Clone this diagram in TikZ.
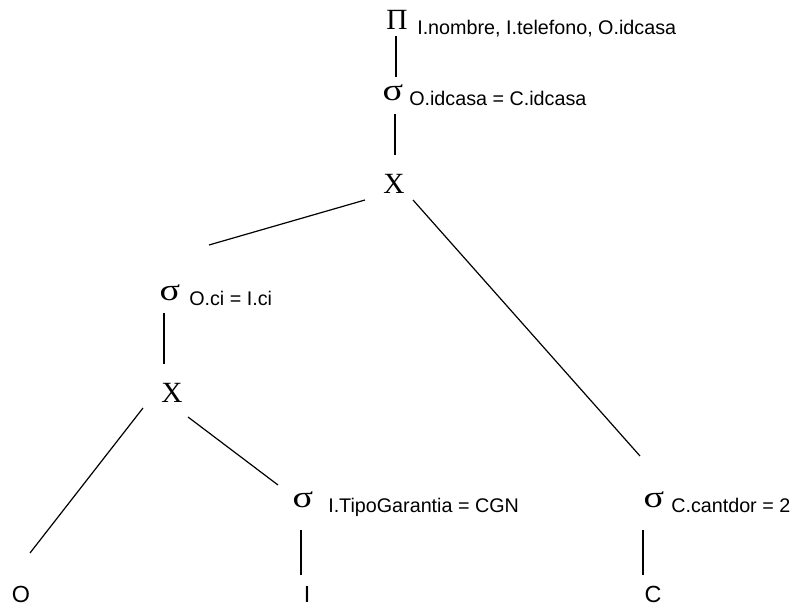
\documentclass[tikz,border=0pt]{standalone}
\usepackage{fontspec}
\setmainfont{Liberation Sans}
\newfontfamily\opfont{Liberation Serif}
\newcommand{\sel}{\scalebox{1.3}[1.05]{σ}}
\tikzset{
  op/.style={anchor=base, inner sep=0pt, font=\opfont\fontsize{22}{24}\selectfont},
  cond/.style={anchor=base west, inner sep=0pt, font=\fontsize{14.8}{17}\selectfont},
  rel/.style={anchor=base, inner sep=0pt, font=\fontsize{17.5}{20}\selectfont},
  edge/.style={line width=0.9pt}
}
\begin{document}
\begin{tikzpicture}[x=0.75pt, y=-0.75pt]
      \useasboundingbox (0,0) rectangle (794,609);
      \path
        (397,30) node[op] (pi){Π}
        (417,35) node[cond] (pic){I.nombre, I.telefono, O.idcasa}
        (393,101) node[op] (s1){\sel}
        (409,106) node[cond] (s1c){O.idcasa = C.idcasa}
        (394,194) node[op] (x1){X}
        (170,301) node[op] (s2){\sel}
        (189,306) node[cond] (s2c){O.ci = I.ci}
        (172,403) node[op] (x2){X}
        (303,508) node[op] (s3){\sel}
        (328,513) node[cond] (s3c){I.TipoGarantia = CGN}
        (654,508) node[op] (s4){\sel}
        (671,513) node[cond] (s4c){C.cantdor = 2}
        (21,603) node[rel] (o){O}
        (307,603) node[rel] (i){I}
        (653,603) node[rel] (c){C};
      \begin{scope}[edge]
        \draw ([shift={(-1,6)}]pi.base) to ([shift={(3,-24)}]s1.base);
        \draw ([shift={(2,13)}]s1.base) to ([shift={(1,-39)}]x1.base);
        \draw ([shift={(-29,6)}]x1.base) to ([shift={(39,-56)}]s2.base);
        \draw ([shift={(19,6)}]x1.base) to ([shift={(-14,-52)}]s4.base);
        \draw ([shift={(-6,12)}]s2.base) to ([shift={(-8,-39)}]x2.base);
        \draw ([shift={(-29,5)}]x2.base) to ([shift={(9,-50)}]o.base);
        \draw ([shift={(16,14)}]x2.base) to ([shift={(-25,-23)}]s3.base);
        \draw ([shift={(-2,22)}]s3.base) to ([shift={(-6,-28)}]i.base);
        \draw ([shift={(-11,22)}]s4.base) to ([shift={(-10,-28)}]c.base);
      \end{scope}
    \end{tikzpicture}
\end{document}
